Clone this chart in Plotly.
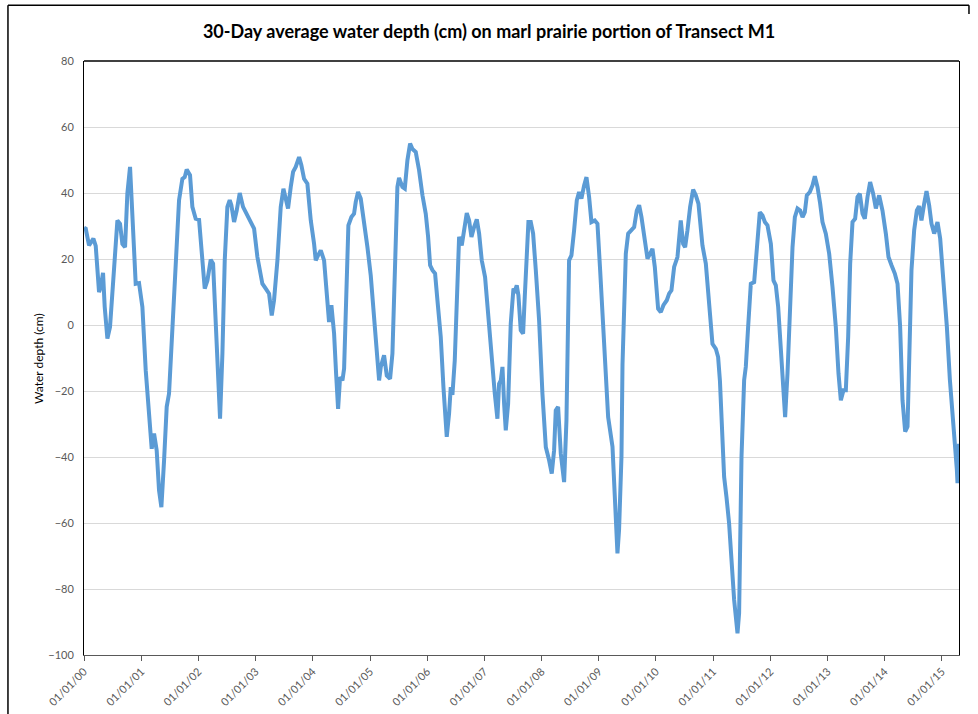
import pandas as pd
import plotly.graph_objects as go

# ---- data (time in decimal years since 01/01/2000, depth in cm) ----
years_since_2000 = [
    0.000, 0.030, 0.088, 0.164, 0.205, 0.263, 0.292, 0.333, 0.362, 0.409, 0.455, 0.525, 0.584, 0.630,
    0.671, 0.718, 0.758, 0.805, 0.846, 0.904, 0.962, 1.021, 1.079, 1.137, 1.184, 1.225, 1.271, 1.312,
    1.353, 1.400, 1.446, 1.487, 1.545, 1.604, 1.662, 1.720, 1.761, 1.796, 1.854, 1.895, 1.953, 2.012,
    2.070, 2.111, 2.158, 2.216, 2.257, 2.303, 2.344, 2.379, 2.420, 2.461, 2.507, 2.548, 2.577, 2.624,
    2.670, 2.723, 2.781, 2.840, 2.886, 2.927, 2.974, 3.032, 3.119, 3.178, 3.236, 3.283, 3.323, 3.382,
    3.440, 3.487, 3.527, 3.568, 3.615, 3.656, 3.702, 3.761, 3.801, 3.848, 3.906, 3.965, 4.023, 4.052,
    4.093, 4.140, 4.198, 4.256, 4.285, 4.326, 4.373, 4.408, 4.443, 4.478, 4.519, 4.548, 4.577, 4.623,
    4.676, 4.722, 4.752, 4.792, 4.839, 4.897, 4.956,
    5.014, 5.072, 5.160, 5.189, 5.247, 5.294, 5.352, 5.393, 5.434, 5.480, 5.509, 5.568, 5.609, 5.655,
    5.702, 5.743, 5.801, 5.859, 5.918, 5.976, 6.017, 6.052, 6.093, 6.139, 6.180, 6.238, 6.285, 6.343,
    6.384, 6.413, 6.442, 6.483, 6.518, 6.559, 6.605, 6.646, 6.693, 6.734, 6.775, 6.821, 6.868, 6.909,
    6.955, 7.013, 7.054, 7.124, 7.183, 7.229, 7.258, 7.288, 7.317, 7.346, 7.375, 7.416, 7.462, 7.509,
    7.538, 7.567, 7.596, 7.637, 7.678, 7.707, 7.742, 7.771, 7.812, 7.853, 7.900, 7.958, 8.016, 8.075,
    8.133, 8.179, 8.220, 8.249, 8.290, 8.337, 8.395, 8.436, 8.482, 8.523, 8.570, 8.617, 8.657, 8.698,
    8.745, 8.786, 8.832, 8.873, 8.931, 8.978, 9.025, 9.077, 9.124, 9.165, 9.241, 9.270, 9.300, 9.328,
    9.356, 9.398, 9.416, 9.445, 9.474, 9.515, 9.561, 9.620, 9.666, 9.707, 9.748, 9.794, 9.853, 9.899,
    9.940, 9.981, 10.039, 10.086, 10.132, 10.191,
    10.231, 10.272, 10.319, 10.377, 10.406, 10.435, 10.476, 10.511, 10.552, 10.599, 10.651, 10.698,
    10.744, 10.785, 10.814, 10.873, 10.931, 10.989, 11.048, 11.088, 11.120, 11.165, 11.193, 11.234,
    11.280, 11.368, 11.427, 11.455, 11.485, 11.497, 11.543, 11.572, 11.613, 11.660, 11.718, 11.765,
    11.817, 11.864, 11.905, 11.951, 12.010, 12.056, 12.097, 12.138, 12.185, 12.231, 12.260, 12.301,
    12.342, 12.389, 12.430, 12.476, 12.523, 12.564, 12.604, 12.639, 12.692, 12.738, 12.779, 12.826,
    12.872, 12.913, 12.971, 13.030, 13.088, 13.146, 13.193, 13.234, 13.280, 13.321, 13.362, 13.397,
    13.438, 13.484, 13.525, 13.566, 13.613, 13.653, 13.700, 13.746, 13.799, 13.846, 13.904, 13.962,
    14.021, 14.067, 14.120, 14.178, 14.225, 14.271, 14.312, 14.359, 14.400, 14.428, 14.469, 14.516,
    14.563, 14.603, 14.644, 14.691, 14.732, 14.778, 14.819, 14.866, 14.924, 14.971, 15.029, 15.088,
    15.140, 15.216, 15.263, 15.274, 15.300,
]

water_depth_cm = [
    29.5, 29.2, 24.1, 26.2, 24.0, 10.0, 11.5, 15.8, 5.5, -4.1, -0.6, 16.6, 31.7, 30.7,
    24.6, 23.6, 39.8, 47.9, 31.7, 12.5, 12.7, 5.5, -13.7, -28.9, -37.5, -32.9, -38.0, -50.1,
    -55.2, -41.0, -24.8, -20.8, -0.6, 19.6, 37.8, 44.3, 44.8, 47.1, 45.4, 35.8, 32.2, 31.9,
    19.6, 11.0, 13.5, 19.8, 18.6, 1.4, -16.8, -28.4, -8.7, 19.6, 35.8, 37.8, 36.3, 31.2,
    34.7, 40.0, 35.8, 33.7, 32.7, 30.7, 29.2, 20.6, 12.5, 11.0, 9.5, 2.9, 7.5, 19.6,
    35.8, 41.3, 38.8, 35.3, 41.8, 46.4, 47.9, 50.9, 48.4, 44.3, 42.8, 31.7, 24.6, 19.6,
    21.1, 22.6, 19.6, 5.5, 0.9, 6.0, -2.6, -14.7, -25.4, -15.8, -16.8, -13.2, 1.4, 30.2,
    32.7, 33.7, 37.3, 40.3, 38.3, 31.7, 23.6,
    15.0, 2.5, -16.8, -12.7, -9.2, -15.3, -16.3, -8.7, 19.6, 41.8, 44.6, 41.8, 41.3, 49.9,
    55.0, 53.3, 52.4, 46.9, 39.3, 33.7, 26.7, 18.1, 16.6, 15.6, 7.5, -3.6, -18.8, -33.9,
    -26.8, -18.8, -21.2, -10.7, 6.5, 26.7, 24.1, 29.7, 33.9, 31.7, 26.7, 29.7, 32.0, 27.7,
    19.6, 14.5, 5.5, -6.7, -20.8, -28.4, -17.8, -16.8, -12.7, -23.8, -31.9, -23.8, 0.4, 11.0,
    10.5, 12.0, 9.0, -1.6, -2.6, 8.5, 19.6, 31.2, 31.2, 27.7, 16.6, 1.4, -20.8, -37.0,
    -41.0, -45.0, -38.0, -25.9, -24.8, -39.0, -47.6, -28.9, 19.6, 21.1, 28.7, 37.8, 40.3, 38.3,
    42.3, 44.8, 38.8, 31.2, 31.7, 30.7, 16.6, -0.6, -16.8, -27.9, -36.9, -47.1, -58.0, -69.2,
    -62.0, -39.9, -12.0, 10.0, 21.6, 27.7, 28.7, 29.7, 34.7, 36.3, 32.7, 26.7, 20.1, 21.6,
    23.1, 17.6, 4.9, 3.9, 6.0, 7.5,
    9.5, 10.5, 17.6, 20.6, 26.7, 31.7, 24.6, 23.6, 28.7, 35.8, 41.0, 39.3,
    36.8, 28.7, 24.1, 18.6, 5.5, -5.7, -7.2, -9.7, -17.0, -39.9, -46.0, -52.1,
    -60.1, -83.3, -93.4, -87.3, -60.0, -39.9, -16.7, -12.7, -0.6, 12.5, 13.0, 21.6,
    34.2, 33.2, 31.2, 30.2, 24.6, 13.5, 12.0, 5.5, -8.7, -21.8, -27.9, -14.7,
    5.5, 23.6, 32.7, 35.3, 34.7, 32.7, 34.2, 39.3, 40.3, 42.3, 45.1, 41.8,
    36.8, 31.2, 27.7, 21.6, 11.5, -0.6, -14.7, -22.8, -19.8, -19.8, -3.6, 18.6,
    31.2, 32.2, 38.8, 39.8, 33.7, 32.2, 38.8, 43.3, 39.8, 35.3, 39.3, 34.7,
    27.7, 20.6, 18.1, 15.6, 12.5, -0.6, -22.8, -32.3, -30.8, -8.7, 16.6, 28.7,
    34.7, 36.0, 31.7, 36.8, 40.6, 36.3, 30.7, 27.7, 31.2, 26.2, 13.5, -0.6,
    -16.5, -32.0, -44.0, -47.9, -36.0,
]

tick_years = list(range(2000, 2016))
tick_labels = ["01/01/%02d" % (y % 100) for y in tick_years]

title_text = "30-Day average water depth (cm) on marl prairie portion of Transect M1"
y_title = "Water depth (cm)"

# ---- build ----
origin = pd.Timestamp("2000-01-01")
dates = [origin + pd.to_timedelta(t * 365.25, unit="D") for t in years_since_2000]
tick_dates = [pd.Timestamp(f"{y}-01-01") for y in tick_years]

FONT = "Lato, Calibri, 'Open Sans', sans-serif"

fig = go.Figure()
fig.add_trace(go.Scatter(
    x=dates, y=water_depth_cm, mode="lines",
    line=dict(color="#5B9BD5", width=4),
    hoverinfo="skip", showlegend=False,
))

fig.update_layout(
    width=978, height=714,
    margin=dict(l=84, r=19, t=61, b=59, autoexpand=False),
    paper_bgcolor="white", plot_bgcolor="white",
    font=dict(family=FONT, color="#595959", size=11),
    title=dict(text=f"<b>{title_text}</b>", x=0.5, xref="container", xanchor="center",
               y=1 - 32 / 714, yref="container", yanchor="middle",
               font=dict(family=FONT, size=18, color="#000000")),
    showlegend=False,
)

fig.update_xaxes(
    type="date",
    range=[dates[0], dates[-1]],
    tickvals=tick_dates, ticktext=tick_labels,
    tickangle=-45,
    tickfont=dict(family=FONT, size=11, color="#595959"),
    showgrid=False, zeroline=False,
    showline=True, linecolor="#595959", linewidth=1,
    ticks="outside", ticklen=5, tickcolor="#595959", tickwidth=1,
)
fig.update_yaxes(
    range=[-100, 80], dtick=20, tick0=0,
    tickfont=dict(family=FONT, size=11, color="#595959"),
    showgrid=True, gridcolor="#D9D9D9", gridwidth=1,
    zeroline=False,
    showline=True, linecolor="#000000", linewidth=1, mirror=True,
    ticks="", ticklabelstandoff=7,
)

# top border of plot area
fig.add_shape(type="line", xref="paper", yref="paper", x0=0, x1=1, y0=1, y1=1,
              line=dict(color="#000000", width=1.5))
# outer chart frame (left, top, short right piece)
fig.add_shape(type="line", xref="paper", yref="paper", x0=-0.0869, x1=-0.0869, y0=1.094, y1=-0.11,
              line=dict(color="#000000", width=1.5))
fig.add_shape(type="line", xref="paper", yref="paper", x0=-0.0869, x1=1.0114, y0=1.094, y1=1.094,
              line=dict(color="#000000", width=1.5))
fig.add_shape(type="line", xref="paper", yref="paper", x0=1.0114, x1=1.0114, y0=1.094, y1=1.079,
              line=dict(color="#000000", width=1.5))

fig.add_annotation(text=y_title, xref="paper", yref="paper", x=-0.0526, y=0.5,
                   textangle=-90, showarrow=False, xanchor="center", yanchor="middle",
                   font=dict(family=FONT, size=12, color="#000000"))

fig.write_html(
    "out.html",
    config={"displayModeBar": False, "staticPlot": True},
    post_script="document.body.style.margin='0';document.body.style.overflow='hidden';",
)
